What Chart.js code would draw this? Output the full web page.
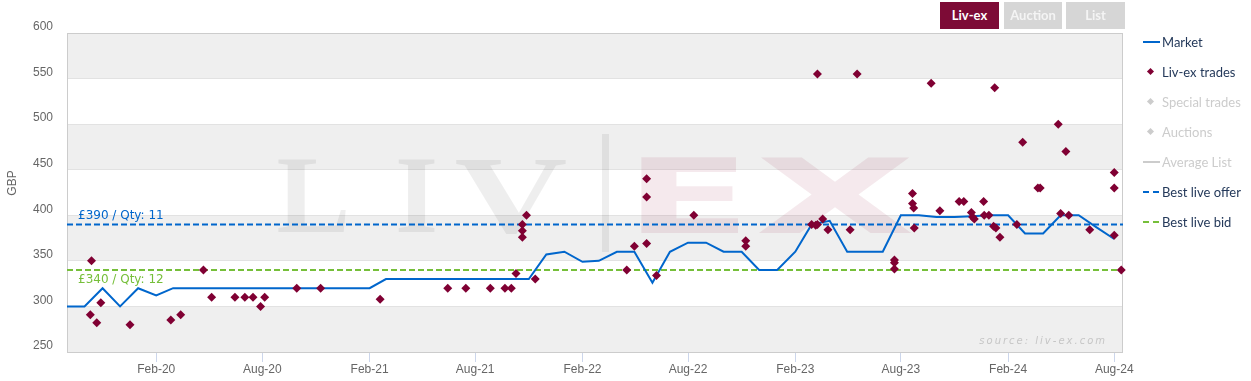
<!DOCTYPE html>
<html>
<head>
<meta charset="utf-8">
<script src="https://cdn.jsdelivr.net/npm/chart.js@4.4.1/dist/chart.umd.min.js"></script>
<style>
  body { margin: 0; background: #fff; }
  #wrap { position: relative; width: 1251px; height: 381px; overflow: hidden; }
  #chart { position: absolute; left: 0; top: 0; }
  .btn { position: absolute; top: 2px; height: 27px; text-align: center;
         color: #f4f4f4; background: #d6d6d6; font: bold 13px Lato, sans-serif; line-height: 27px; }
  .btn.on { background: #7d0b36; color: #fff; }
  .leg { position: absolute; left: 1143px; height: 16px; white-space: nowrap;
         font: 13px Lato, sans-serif; line-height: 16px; color: #24395a; }
  .leg.off { color: #cccccc; }
  .leg .sym { position: absolute; left: 0; top: 7px; width: 17px; height: 2px; }
  .leg .dia { position: absolute; left: 5px; top: 5px; width: 5px; height: 5px; transform: rotate(45deg); }
  .leg .txt { position: absolute; left: 19px; top: 0; }
</style>
</head>
<body>
<div id="wrap">
  <canvas id="chart" width="1251" height="381"></canvas>
  <div class="btn on" style="left:940px;width:59px">Liv-ex</div>
  <div class="btn" style="left:1004px;width:58px">Auction</div>
  <div class="btn" style="left:1066px;width:59px">List</div>
  <div id="legend"></div>
</div>
<script>
// ── Data ──
const xMin = '2019-09-01';
const xMax = '2024-08-16';

const xTickDates = ['2020-02-01', '2020-08-01', '2021-02-01', '2021-08-01', '2022-02-01',
                    '2022-08-01', '2023-02-01', '2023-08-01', '2024-02-01', '2024-08-01'];
const xTickLabels = ['Feb-20', 'Aug-20', 'Feb-21', 'Aug-21', 'Feb-22',
                     'Aug-22', 'Feb-23', 'Aug-23', 'Feb-24', 'Aug-24'];

const marketDates = [
  '2019-09', '2019-10', '2019-11', '2019-12',
  '2020-01', '2020-02', '2020-03', '2020-04', '2020-05', '2020-06', '2020-07', '2020-08', '2020-09', '2020-10', '2020-11', '2020-12',
  '2021-01', '2021-02', '2021-03', '2021-04', '2021-05', '2021-06', '2021-07', '2021-08', '2021-09', '2021-10', '2021-11', '2021-12',
  '2022-01', '2022-02', '2022-03', '2022-04', '2022-05', '2022-06', '2022-07', '2022-08', '2022-09', '2022-10', '2022-11', '2022-12',
  '2023-01', '2023-02', '2023-03', '2023-04', '2023-05', '2023-06', '2023-07', '2023-08', '2023-09', '2023-10', '2023-11', '2023-12',
  '2024-01', '2024-02', '2024-03', '2024-04', '2024-05', '2024-06', '2024-07', '2024-08'
];
const marketPrices = [
  300, 300, 320, 300,
  320, 312, 320, 320, 320, 320, 320, 320, 320, 320, 320, 320,
  320, 320, 330, 330, 330, 330, 330, 330, 330, 330, 330, 357,
  360, 349, 350, 360, 360, 326, 360, 370, 370, 360, 360, 340,
  340, 360, 390, 394, 360, 360, 360, 400, 400, 398, 398, 399,
  400, 400, 380, 380, 400, 400, 387, 374
];

const tradeDates = [
  '2019-10-11', '2019-10-13', '2019-10-22', '2019-10-29', '2019-12-18',
  '2020-02-26', '2020-03-14', '2020-04-22', '2020-05-06', '2020-06-15',
  '2020-07-02', '2020-07-16', '2020-07-29', '2020-08-05', '2020-09-29', '2020-11-09',
  '2021-02-19', '2021-06-15', '2021-07-16', '2021-08-27', '2021-09-21', '2021-10-02',
  '2021-10-10', '2021-10-21', '2021-10-21', '2021-10-21', '2021-10-28', '2021-11-12',
  '2022-04-18', '2022-05-01', '2022-05-22', '2022-05-22', '2022-05-22', '2022-06-08',
  '2022-08-11', '2022-11-08', '2022-11-08',
  '2023-03-01', '2023-03-08', '2023-03-11', '2023-03-11', '2023-03-20', '2023-03-29',
  '2023-05-06', '2023-05-18', '2023-07-21', '2023-07-21', '2023-07-21',
  '2023-08-21', '2023-08-21', '2023-08-23', '2023-08-24', '2023-09-22', '2023-10-07',
  '2023-11-09', '2023-11-17', '2023-11-30', '2023-12-02', '2023-12-05', '2023-12-21',
  '2023-12-22', '2023-12-30',
  '2024-01-07', '2024-01-09', '2024-01-11', '2024-01-18', '2024-02-16', '2024-02-26',
  '2024-03-23', '2024-03-27', '2024-04-27', '2024-05-01', '2024-05-10', '2024-05-15',
  '2024-06-20', '2024-08-01', '2024-08-01', '2024-08-01', '2024-08-13'
];
const tradePrices = [
  291, 350, 282, 304, 280,
  285, 291, 340, 310, 310,
  310, 310, 300, 310, 320, 320,
  308, 320, 320, 320, 320, 320,
  336, 390, 383, 376, 400, 330,
  340, 366, 440, 420, 369, 334,
  400, 372, 366,
  390, 389, 555, 390, 396, 384,
  384, 555, 351, 348, 341,
  424, 413, 408, 386, 545, 405,
  415, 415, 403, 398, 396, 415,
  400, 400,
  388, 540, 386, 376, 390, 480,
  430, 430, 500, 402, 470, 400,
  384, 447, 430, 378, 340
];

const bestOffer = 390, offerQty = 11;
const bestBid = 340, bidQty = 12;

const yMin = 250, yMax = 600, yStep = 50;

// ── Colours ──
const blue = '#0066cc';
const green = '#76bf3a';
const maroon = '#800033';
const muted = '#666666';

function toMs(s) {
  const [y, m, d] = s.split('-').map(Number);
  return Date.UTC(y, m - 1, d || 1);
}

// ── Legend (HTML) ──
const legendItems = [
  { label: 'Market', kind: 'line', color: blue },
  { label: 'Liv-ex trades', kind: 'dia', color: maroon },
  { label: 'Special trades', kind: 'dia', color: '#cccccc', off: true },
  { label: 'Auctions', kind: 'dia', color: '#cccccc', off: true },
  { label: 'Average List', kind: 'line', color: '#cccccc', off: true },
  { label: 'Best live offer', kind: 'dash', color: blue },
  { label: 'Best live bid', kind: 'dash', color: green }
];
const legendEl = document.getElementById('legend');
legendItems.forEach((it, i) => {
  const row = document.createElement('div');
  row.className = 'leg' + (it.off ? ' off' : '');
  row.style.top = (34 + i * 30) + 'px';
  let sym;
  if (it.kind === 'dia') {
    sym = `<span class="dia" style="background:${it.color}"></span>`;
  } else if (it.kind === 'dash') {
    sym = `<span class="sym" style="background:repeating-linear-gradient(to right, ${it.color} 0 6px, transparent 6px 10px)"></span>`;
  } else {
    sym = `<span class="sym" style="background:${it.color}"></span>`;
  }
  row.innerHTML = sym + `<span class="txt">${it.label}</span>`;
  legendEl.appendChild(row);
});

// ── Plugins ──
const bandsPlugin = {
  id: 'bands',
  beforeDraw(chart) {
    const { ctx, chartArea: a, scales: { y } } = chart;
    ctx.save();
    for (let v = yMin, k = 0; v < yMax; v += yStep, k++) {
      if (k % 2 === 0) {
        const top = y.getPixelForValue(v + yStep), bot = y.getPixelForValue(v);
        ctx.fillStyle = '#efefef';
        ctx.fillRect(a.left, top, a.right - a.left, bot - top);
      }
    }
    ctx.restore();
  }
};

function fitGlyph(ctx, ch, x0, x1, yTop, yBase, font, uniform) {
  ctx.save();
  ctx.font = font;
  const m = ctx.measureText(ch);
  const w = m.actualBoundingBoxRight + m.actualBoundingBoxLeft;
  const h = m.actualBoundingBoxAscent;
  const sy = (yBase - yTop) / h;
  const sx = uniform ? sy : (x1 - x0) / w;
  const cx = (x0 + x1) / 2;
  ctx.translate(cx - (w * sx) / 2, yBase);
  ctx.scale(sx, sy);
  ctx.fillText(ch, m.actualBoundingBoxLeft, 0);
  ctx.restore();
}

const watermarkPlugin = {
  id: 'watermark',
  beforeDatasetsDraw(chart) {
    const { ctx } = chart;
    ctx.save();
    ctx.fillStyle = 'rgba(0,0,0,0.065)';
    const serif = 'bold 100px "Liberation Serif", serif';
    fitGlyph(ctx, 'L', 274, 350, 160, 232, serif, true);
    fitGlyph(ctx, 'I', 386, 447, 160, 232, serif, true);
    fitGlyph(ctx, 'V', 456, 567, 160, 232, serif, false);
    ctx.fillRect(602, 134, 7, 118);
    ctx.fillStyle = 'rgba(135,0,45,0.085)';
    const sans = 'bold 100px "DejaVu Sans", sans-serif';
    fitGlyph(ctx, 'E', 641, 738, 157, 233, sans, false);
    fitGlyph(ctx, 'X', 757, 913, 157, 233, sans, false);
    ctx.restore();

    // plot border
    const a = chart.chartArea;
    ctx.save();
    ctx.strokeStyle = '#cccccc';
    ctx.lineWidth = 1;
    ctx.strokeRect(Math.round(a.left) + 0.5, Math.round(a.top) + 0.5,
                   Math.round(a.right - a.left) - 1, Math.round(a.bottom - a.top));
    ctx.restore();

    // source credit
    ctx.save();
    ctx.font = 'italic 10px "DejaVu Sans", sans-serif';
    ctx.letterSpacing = '2px';
    ctx.fillStyle = '#c6c6c6';
    ctx.textAlign = 'right';
    ctx.textBaseline = 'alphabetic';
    ctx.fillText('source: liv-ex.com', a.right - 16, a.bottom - 8);
    ctx.restore();
  },
  afterDatasetsDraw(chart) {
    const { ctx, chartArea: a, scales: { y } } = chart;
    ctx.save();
    ctx.font = '12px "DejaVu Sans", sans-serif';
    ctx.textAlign = 'left';
    ctx.textBaseline = 'alphabetic';
    ctx.fillStyle = blue;
    ctx.fillText('£' + bestOffer + ' / Qty: ' + offerQty, a.left + 11, y.getPixelForValue(bestOffer) - 5);
    ctx.fillStyle = green;
    ctx.fillText('£' + bestBid + ' / Qty: ' + bidQty, a.left + 11, y.getPixelForValue(bestBid) + 13);

    // y-axis title
    ctx.fillStyle = muted;
    ctx.font = '12px "Liberation Sans", sans-serif';
    ctx.translate(12.5, 183);
    ctx.rotate(-Math.PI / 2);
    ctx.textAlign = 'center';
    ctx.textBaseline = 'middle';
    ctx.fillText('GBP', 0, 0);
    ctx.restore();
  }
};

// ── Chart ──
const market = marketDates.map((d, i) => ({ x: toMs(d), y: marketPrices[i] }));
const trades = tradeDates.map((d, i) => ({ x: toMs(d), y: tradePrices[i] }));
const offerLine = [{ x: toMs(xMin), y: bestOffer }, { x: toMs(xMax), y: bestOffer }];
const bidLine = [{ x: toMs(xMin), y: bestBid }, { x: toMs(xMax), y: bestBid }];

new Chart(document.getElementById('chart'), {
  type: 'scatter',
  data: {
    datasets: [
      {
        label: 'Liv-ex trades',
        data: trades,
        pointStyle: 'rectRot',
        pointRadius: 4.5,
        backgroundColor: maroon,
        borderColor: maroon,
        borderWidth: 0,
        clip: false,
        order: 0
      },
      {
        label: 'Market',
        type: 'line',
        data: market,
        borderColor: blue,
        borderWidth: 2,
        pointRadius: 0,
        tension: 0,
        order: 1
      },
      {
        label: 'Best live offer',
        type: 'line',
        data: offerLine,
        borderColor: blue,
        borderWidth: 2,
        borderDash: [6, 3],
        pointRadius: 0,
        order: 2
      },
      {
        label: 'Best live bid',
        type: 'line',
        data: bidLine,
        borderColor: green,
        borderWidth: 2,
        borderDash: [6, 3],
        pointRadius: 0,
        order: 2
      }
    ]
  },
  options: {
    responsive: false,
    animation: false,
    events: [],
    layout: { padding: { left: 0, right: 128, top: 33, bottom: 0 } },
    plugins: { legend: { display: false }, tooltip: { enabled: false } },
    scales: {
      x: {
        type: 'linear',
        min: toMs(xMin),
        max: toMs(xMax),
        afterBuildTicks: axis => { axis.ticks = xTickDates.map(d => ({ value: toMs(d) })); },
        afterFit: axis => { axis.height = 29; },
        grid: { drawOnChartArea: false, drawTicks: true, tickLength: 10, color: '#ccd6eb' },
        border: { display: false },
        ticks: {
          autoSkip: false,
          maxRotation: 0,
          padding: 0,
          color: muted,
          font: { size: 12, family: '"Liberation Sans", sans-serif' },
          callback: (v, i) => xTickLabels[i]
        }
      },
      y: {
        min: yMin,
        max: yMax,
        afterFit: axis => { axis.width = 67; },
        grid: { color: '#e2e2e2', drawTicks: false },
        border: { display: false },
        ticks: {
          stepSize: yStep,
          padding: 14,
          labelOffset: -6,
          color: muted,
          font: { size: 12, family: '"Liberation Sans", sans-serif' }
        }
      }
    }
  },
  plugins: [bandsPlugin, watermarkPlugin]
});
</script>
</body>
</html>
